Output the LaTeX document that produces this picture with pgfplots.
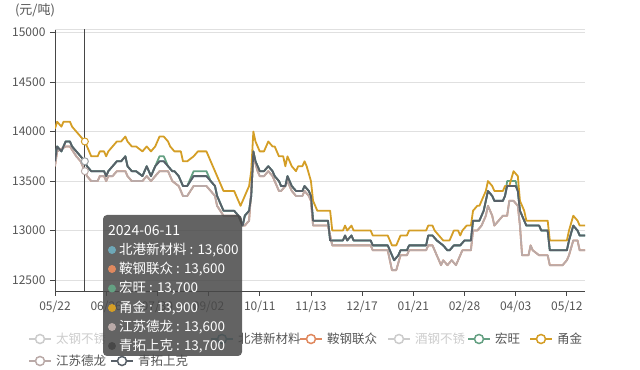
\documentclass[border=0pt]{standalone}
\usepackage{fontspec}
\setmainfont{Noto Sans CJK SC}
\usepackage{pgfplots}
\pgfplotsset{compat=1.18}
\definecolor{cGold}{RGB}{212,158,38}
\definecolor{cDark}{RGB}{88,96,104}
\definecolor{cTaupe}{RGB}{186,170,168}
\definecolor{cTeal}{RGB}{110,168,184}
\definecolor{cOrange}{RGB}{224,137,95}
\definecolor{cGreen}{RGB}{100,160,130}
\definecolor{cAxis}{RGB}{70,70,70}
\definecolor{cGrid}{RGB}{224,224,224}
\definecolor{cTick}{RGB}{85,85,85}
\definecolor{cOff}{RGB}{204,204,204}
\definecolor{cTip}{RGB}{72,72,72}

\pgfplotstableread{
x y
0 14030
1 14100
3 14050
4 14100
7 14100
8 14050
10 14000
12 13950
14 13900
15 13850
17 13750
20 13750
21 13800
23 13800
24 13750
25 13800
27 13850
29 13900
31 13900
33 13950
34 13900
36 13850
38 13850
41 13800
43 13850
45 13800
47 13850
49 13950
51 13950
53 13900
54 13850
56 13800
59 13800
60 13700
62 13700
65 13750
67 13800
71 13800
73 13700
75 13600
76 13550
77 13500
79 13400
84 13400
86 13300
87 13250
89 13350
91 13450
92 13600
93 14000
94 13900
96 13800
98 13800
100 13900
102 13850
103 13850
105 13750
107 13750
108 13650
109 13750
111 13650
113 13600
114 13650
116 13650
117 13700
118 13650
120 13500
121 13300
123 13200
129 13200
130 13000
135 13000
136 13050
137 13000
139 13050
140 13000
148 13000
149 12950
156 12950
158 12850
160 12850
162 12950
165 12950
166 13000
174 13000
175 13050
177 13050
178 13000
180 12950
182 12900
185 12900
187 13000
189 13000
190 12950
191 13000
193 13050
195 13050
196 13200
198 13250
199 13250
202 13400
203 13500
205 13450
206 13400
210 13400
211 13450
213 13450
215 13600
217 13550
218 13300
220 13200
221 13100
231 13100
232 12900
240 12900
241 13000
243 13150
245 13100
246 13050
248.5 13050
}\yongjin

\pgfplotstableread{
x y
0 13700
1 13850
3 13800
5 13900
7 13900
8 13850
10 13800
12 13750
14 13700
15 13650
17 13600
20 13600
23 13600
24 13550
25 13600
27 13650
29 13700
31 13700
33 13750
34 13650
36 13600
38 13600
41 13550
43 13650
45 13550
47 13650
49 13700
51 13700
53 13650
55 13600
56 13600
58 13550
60 13450
62 13450
65 13550
67 13550
71 13550
73 13500
75 13450
76 13350
79 13200
84 13200
86 13150
88 13050
89 13150
91 13200
92 13350
93 13800
94 13700
96 13600
98 13600
100 13650
102 13600
103 13550
105 13500
106 13450
108 13450
109 13550
111 13450
113 13400
116 13400
117 13450
119 13400
120 13350
121 13100
128 13100
129 12900
135 12900
136 12950
137 12900
139 12950
140 12900
148 12900
149 12850
156 12850
159 12700
161 12750
162 12800
165 12800
166 12850
174 12850
175 12950
177 12950
179 12900
182 12850
184 12800
185 12800
187 12850
190 12850
192 12900
195 12900
196 13100
199 13100
201 13200
202 13300
203 13400
205 13350
206 13300
210 13300
211 13350
212 13450
216 13450
217 13400
218 13200
220 13100
221 13050
227 13050
228 13000
231 13000
232 12800
240 12800
241 12900
243 13050
245 13000
246 12950
248.5 12950
}\qingtuo

\pgfplotstableread{
x y
0 13700
1 13850
3 13800
5 13900
7 13900
8 13850
10 13800
12 13750
14 13700
15 13650
17 13600
20 13600
23 13600
24 13550
25 13600
27 13650
29 13700
31 13700
33 13750
34 13650
36 13600
38 13600
41 13550
43 13650
45 13550
47 13650
49 13750
51 13750
53 13650
55 13600
56 13600
58 13550
60 13450
62 13450
65 13600
67 13600
71 13600
73 13500
75 13450
76 13350
79 13200
84 13200
86 13150
88 13050
89 13150
91 13200
92 13350
93 13800
94 13700
96 13600
98 13600
100 13650
102 13600
103 13550
105 13500
106 13450
108 13450
109 13550
111 13450
113 13400
116 13400
117 13450
119 13400
120 13350
121 13100
128 13100
129 12900
135 12900
136 12950
137 12900
139 12950
140 12900
148 12900
149 12850
156 12850
159 12700
161 12750
162 12800
165 12800
166 12850
174 12850
175 12950
177 12950
179 12900
182 12850
184 12800
185 12800
187 12850
190 12850
192 12900
195 12900
196 13100
199 13100
201 13200
202 13300
203 13400
205 13350
206 13300
210 13300
211 13350
212 13500
216 13500
217 13400
218 13200
220 13100
221 13050
227 13050
228 13000
231 13000
232 12800
240 12800
241 12900
243 13050
245 13000
246 12950
248.5 12950
}\hongwang

\pgfplotstableread{
x y
0 13650
1 13800
5 13850
7 13850
10 13750
12 13700
13 13650
14 13600
15 13550
17 13500
20 13500
21 13550
23 13550
24 13500
25 13550
27 13550
29 13600
33 13600
34 13550
36 13500
41 13500
43 13550
45 13500
47 13550
49 13600
53 13600
55 13500
58 13450
60 13350
62 13350
65 13450
71 13450
73 13400
75 13350
76 13250
79 13150
86 13150
88 13050
89 13050
91 13100
92 13400
93 13750
95 13600
96 13550
98 13550
100 13600
102 13550
103 13500
105 13400
106 13400
108 13450
109 13500
111 13400
113 13350
116 13350
117 13400
119 13350
120 13300
121 13050
128 13050
130 12850
148 12850
149 12800
156 12800
158 12600
160 12600
162 12750
165 12750
166 12800
174 12800
175 12850
177 12850
179 12750
181 12650
182 12700
184 12650
186 12700
188 12650
190 12750
191 12800
195 12800
196 13000
198 13000
200 13050
202 13150
203 13250
205 13150
206 13050
208 13100
210 13150
212 13150
213 13300
215 13300
217 13250
218 13050
219 12750
222 12750
223 12850
224 12800
227 12750
231 12750
232 12650
238 12650
240 12700
241 12750
243 12900
245 12900
246 12800
248.5 12800
}\delong

\newcommand{\legitem}[5]{%
  \draw[#3, line width=1.5bp] (#1bp-11bp,#2bp) -- (#1bp+11bp,#2bp);
  \draw[#3, fill=white, line width=1.5bp] (#1bp,#2bp) circle (4.5bp);
  \node[anchor=west, inner sep=0pt, text=#4, font=\fontsize{12.5bp}{14bp}\selectfont] at (#1bp+16bp,#2bp) {#5};
}
\newcommand{\tiprow}[3]{%
  \fill[#2] (112bp,#1bp) circle (4bp);
  \node[anchor=west, inner sep=0pt, text=white, font=\fontsize{13.5bp}{15bp}\selectfont] at (119bp,#1bp) {#3};
}

\begin{document}
\begin{tikzpicture}
\path[use as bounding box] (0bp,0bp) rectangle (640bp,370bp);
\begin{axis}[
  at={(55bp,79bp)}, anchor=south west, scale only axis,
  width=530bp, height=262bp,
  xmin=0, xmax=248.5, ymin=12389, ymax=15037,
  axis x line=bottom, axis y line=left,
  axis line style={-, draw=cAxis, line width=0.8bp},
  xtick={0,24,...,240},
  xticklabels={05/22,06/26,07/30,09/02,10/11,11/13,12/17,01/21,02/28,04/03,05/12},
  ytick={12500,13000,13500,14000,14500,15000},
  yticklabels={12500,13000,13500,14000,14500,15000},
  scaled y ticks=false, scaled x ticks=false,
  ymajorgrids, grid style={draw=cGrid, line width=0.8bp},
  tick align=outside, major tick length=5bp,
  tick style={draw=cAxis, line width=0.8bp},
  ticklabel style={font=\fontsize{12bp}{14bp}\selectfont, text=cTick},
  xticklabel style={yshift=-1bp},
  yticklabel style={xshift=-1bp},
  every axis plot/.append style={line width=1.8bp, line join=round, mark=none},
]
\draw[cGrid, line width=0.8bp] (rel axis cs:0,1) -- (rel axis cs:1,1);
\addplot[cTeal] table {\qingtuo};
\addplot[cOrange] table {\delong};
\addplot[cGreen] table {\hongwang};
\addplot[cGold] table {\yongjin};
\addplot[cTaupe] table {\delong};
\addplot[cDark] table {\qingtuo};
\draw[cAxis, line width=0.8bp] (axis cs:14,12389) -- (axis cs:14,15037);
\addplot[only marks, mark=*, mark size=3.5bp, mark options={fill=white, draw=cGold, line width=1bp}] coordinates {(14,13900)};
\addplot[only marks, mark=*, mark size=3.5bp, mark options={fill=white, draw=cDark!60, line width=1bp}] coordinates {(14,13700)};
\addplot[only marks, mark=*, mark size=3.5bp, mark options={fill=white, draw=cTaupe, line width=1bp}] coordinates {(14,13600)};
\end{axis}
\node[text=cTick, font=\fontsize{13bp}{15bp}\selectfont, inner sep=0pt] at (35bp,360bp) {(元/吨)};
% legend
\legitem{40}{31}{cOff}{cOff}{太钢不锈}
\legitem{222}{31}{cTeal}{cTick}{北港新材料}
\legitem{311}{31}{cOrange}{cTick}{鞍钢联众}
\legitem{399}{31}{cOff}{cOff}{酒钢不锈}
\legitem{479}{31}{cGreen}{cTick}{宏旺}
\legitem{541}{31}{cGold}{cTick}{甬金}
\legitem{40}{9}{cTaupe}{cTick}{江苏德龙}
\legitem{122}{9}{cDark}{cTick}{青拓上克}
% tooltip
\fill[cTip, fill opacity=0.85, rounded corners=4bp] (103bp,14bp) rectangle (242bp,155bp);
\node[anchor=west, inner sep=0pt, text=white, font=\fontsize{14bp}{16bp}\selectfont] at (108bp,139bp) {2024-06-11};
\tiprow{120}{cTeal}{北港新材料 : 13,600}
\tiprow{101}{cOrange}{鞍钢联众 : 13,600}
\tiprow{81.5}{cGreen}{宏旺 : 13,700}
\tiprow{62}{cGold}{甬金 : 13,900}
\tiprow{43}{cTaupe}{江苏德龙 : 13,600}
\tiprow{24}{cTip}{青拓上克 : 13,700}
\end{tikzpicture}
\end{document}
